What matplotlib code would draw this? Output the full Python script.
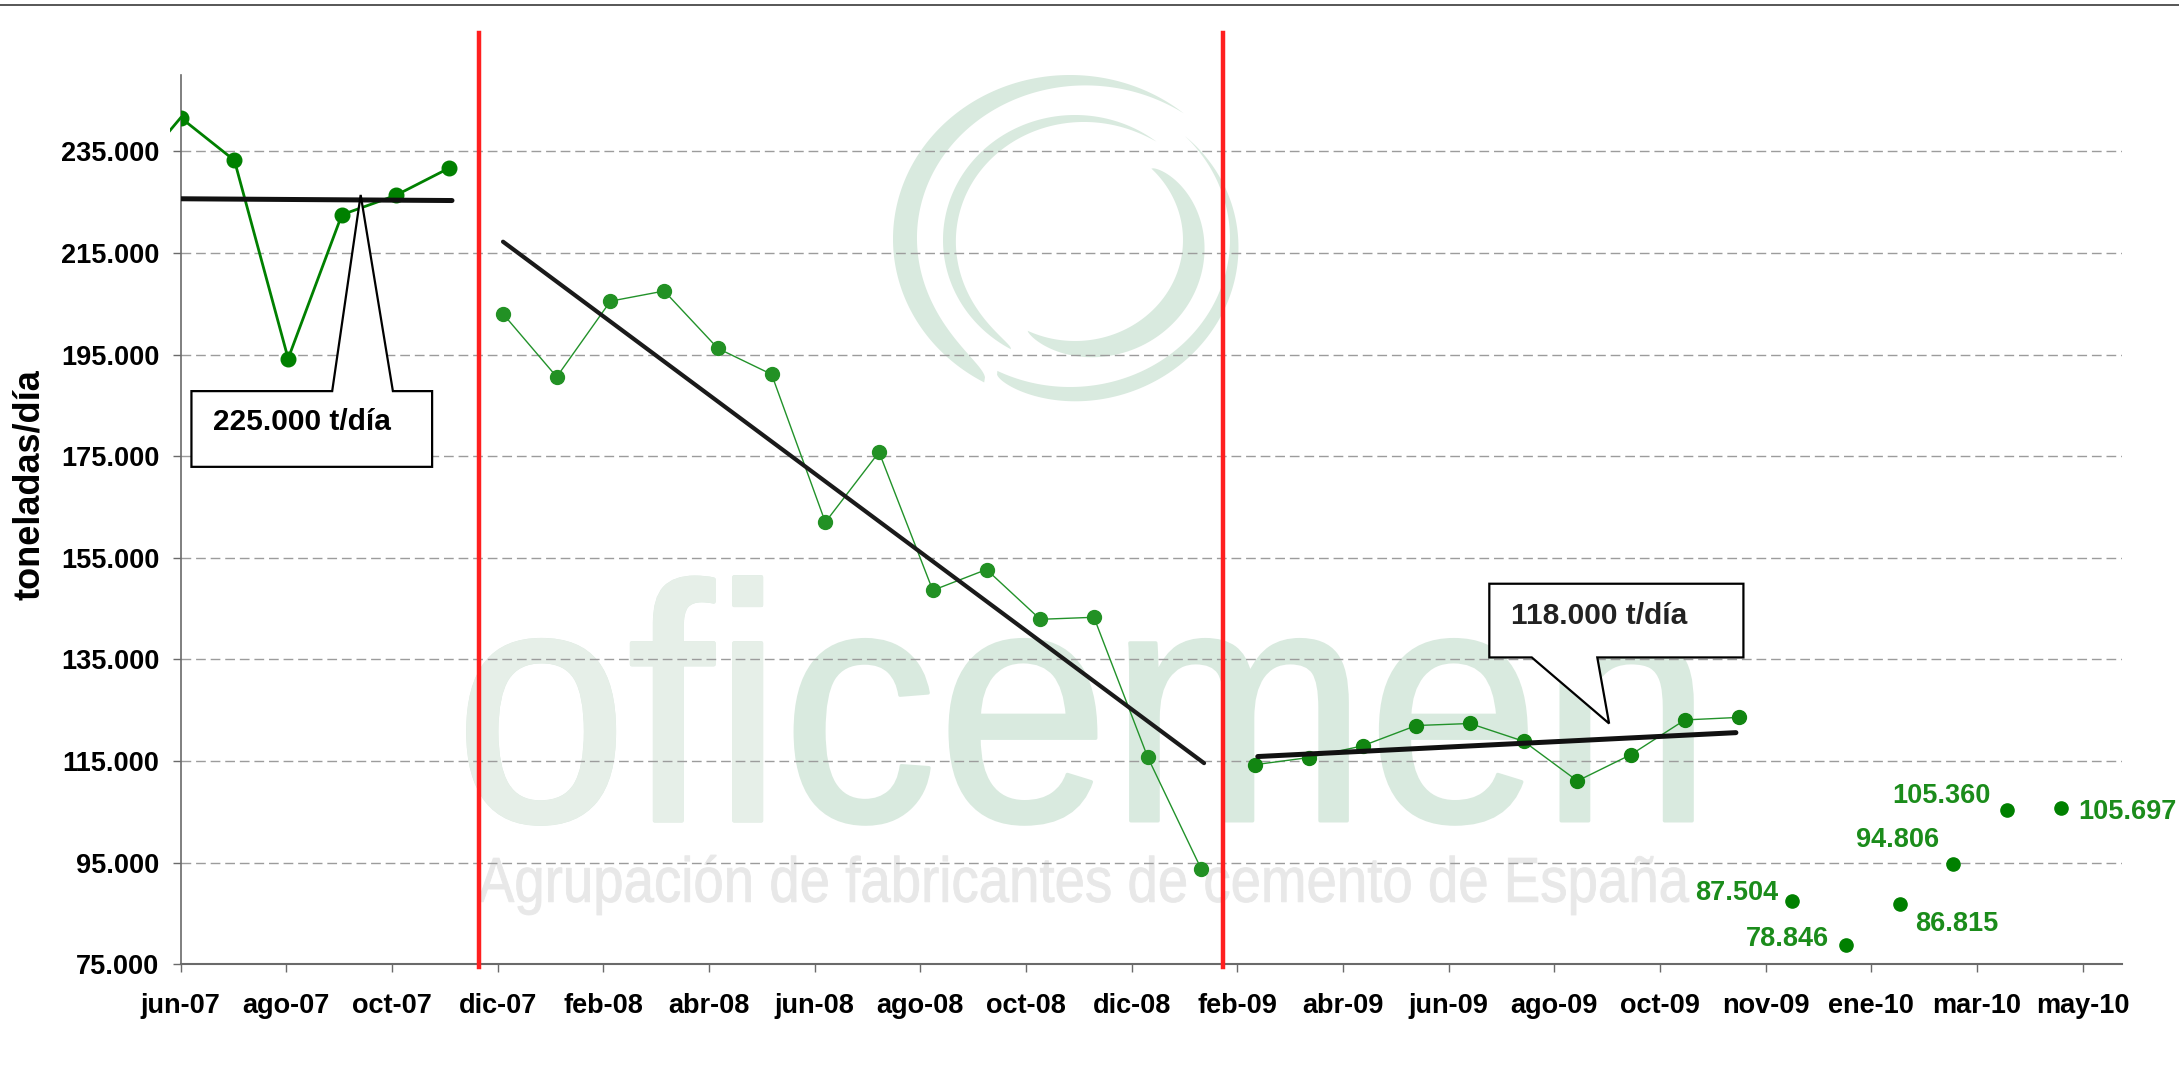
import numpy as np
import matplotlib
matplotlib.use("Agg")
import matplotlib.pyplot as plt
from matplotlib.patches import Polygon, PathPatch, Rectangle
from matplotlib.textpath import TextPath
from matplotlib.font_manager import FontProperties
from matplotlib.transforms import Affine2D
from matplotlib.lines import Line2D
from matplotlib.ticker import FuncFormatter, FixedLocator

plt.rcParams['font.family'] = ['Liberation Sans', 'DejaVu Sans']

# ---------------- data (month index 0 = jun-07) ----------------
stub_x = [-1, 0]
stub_y = [229000, 241600]

seg1_x = [0, 1, 2, 3, 4, 5]
seg1_y = [241600, 233200, 194200, 222500, 226300, 231700]

seg2_x = list(range(6, 20))
seg2_y = [203000, 190600, 205500, 207500, 196200, 191100, 162000, 175800,
          148600, 152700, 142900, 143300, 115800, 93700]

seg3_x = list(range(20, 30))
seg3_y = [114300, 115700, 118000, 122000, 122400, 118900, 111100, 116300,
          123100, 123600]

pts_x = [30, 31, 32, 33, 34, 35]
pts_y = [87504, 78846, 86815, 94806, 105360, 105697]

trend1_x = [-0.04, 5.05]
trend1_y = [225650, 225300]
trend2_x = [6.0, 19.05]
trend2_y = [217200, 114600]
trend3_x = [20.05, 28.95]
trend3_y = [115900, 120600]

break_x = [5.56, 19.40]

tick_labels = ['jun-07', 'ago-07', 'oct-07', 'dic-07', 'feb-08', 'abr-08',
               'jun-08', 'ago-08', 'oct-08', 'dic-08', 'feb-09', 'abr-09',
               'jun-09', 'ago-09', 'oct-09', 'nov-09', 'ene-10', 'mar-10',
               'may-10']
tick_step = 1.967

yticks = [75000, 95000, 115000, 135000, 155000, 175000, 195000, 215000, 235000]

callout_texts = ['225.000 t/día', '118.000 t/día']

# ---------------- layout / style ----------------
W, H = 2179, 1072
fig = plt.figure(figsize=(W / 100, H / 100), dpi=100)

# background watermark axes in pixel coordinates
bg = fig.add_axes([0, 0, 1, 1], zorder=0)
bg.set_xlim(0, W)
bg.set_ylim(H, 0)
bg.axis('off')

logo_col = '#d9eadf'
logo_light = '#e6efe8'


def crescent(cx, cy, rx, ry, th0, th1, wmax, tpeak, anchor, n=300):
    th = np.radians(np.linspace(th0, th1, n))
    t = np.linspace(0, 1, n)
    a, b = 1.4 * tpeak, 1.4 * (1 - tpeak)
    prof = t ** a * (1 - t) ** b
    w = wmax * prof / prof.max()
    if anchor == 'outer':
        r_o_x, r_o_y = rx, ry
        r_i_x, r_i_y = rx - w, ry - w
    else:
        r_i_x, r_i_y = rx, ry
        r_o_x, r_o_y = rx + w, ry + w
    ox = cx + r_o_x * np.cos(th)
    oy = cy - r_o_y * np.sin(th)
    ix = cx + r_i_x * np.cos(th)
    iy = cy - r_i_y * np.sin(th)
    xs = np.concatenate([ox, ix[::-1]])
    ys = np.concatenate([oy, iy[::-1]])
    return Polygon(np.column_stack([xs, ys]), closed=True, fc=logo_col,
                   ec='none')


bg.add_patch(crescent(1070, 239, 177, 164, 50, 241, 24, 0.70, 'outer'))
bg.add_patch(crescent(1070, 239, 160, 148, 44, -117, 15, 0.72, 'inner'))
bg.add_patch(crescent(1075, 240, 132, 125, 52, 241, 13, 0.62, 'outer'))
bg.add_patch(crescent(1075, 240, 108, 101, 45, -116, 24, 0.48, 'inner'))


def fitted_text(s, x0, x1, ytop, ybot, color, family, thicken=0.0,
                overlay=None):
    fp = FontProperties(family=family)
    tp = TextPath((0, 0), s, size=100, prop=fp)
    ext = tp.get_extents()
    sx = (x1 - x0) / ext.width
    sy = (ybot - ytop) / ext.height
    tr = Affine2D().translate(-ext.x0, -ext.y0).scale(sx, -sy).translate(x0, ybot)
    bg.add_patch(PathPatch(tr.transform_path(tp), fc=color, ec=color,
                           lw=thicken, joinstyle='round'))
    if overlay is not None:
        sub, col = overlay
        tp2 = TextPath((0, 0), sub, size=100, prop=fp)
        bg.add_patch(PathPatch(tr.transform_path(tp2), fc=col, ec=col,
                               lw=thicken, joinstyle='round'))


fitted_text('oficemen', 468, 1692, 577, 824, logo_col, 'Liberation Sans',
            thicken=2.6, overlay=('ofi', logo_light))
fitted_text('Agrupación de fabricantes de cemento de España', 478, 1689, 855,
            915, '#e8e8e8', 'Liberation Sans', thicken=0.6)

# main axes
x0p, x1p, ytopp, ybotp = 180.7, 2121.6, 75, 964.4
ax = fig.add_axes([x0p / W, 1 - ybotp / H, (x1p - x0p) / W, (ybotp - ytopp) / H],
                  zorder=1)
ax.patch.set_alpha(0)
ax.set_xlim(0, (x1p - x0p) / 53.72)
ax.set_ylim(75000, 250000)

for s in ['top', 'right']:
    ax.spines[s].set_visible(False)
ax.spines['left'].set_color('#6a6a6a')
ax.spines['left'].set_linewidth(1.2)
ax.spines['bottom'].set_color('#6a6a6a')
ax.spines['bottom'].set_linewidth(1.5)

ax.yaxis.set_major_locator(FixedLocator(yticks))
ax.yaxis.set_major_formatter(FuncFormatter(lambda v, p: f"{int(v):,}".replace(',', '.')))
ax.set_xticks([k * tick_step for k in range(len(tick_labels))])
ax.set_xticklabels(tick_labels)
ax.tick_params(axis='y', length=5.8, width=1, color='#6a6a6a', pad=9.5,
               labelsize=19.5)
ax.tick_params(axis='x', length=5.4, width=1, color='#6a6a6a', pad=15,
               labelsize=19.5)
for lab in ax.get_xticklabels() + ax.get_yticklabels():
    lab.set_fontweight('bold')

ax.yaxis.grid(True, linestyle=(0, (7, 3.5)), color='#9c9c9c', lw=1)
ax.set_axisbelow(True)

fig.text(30 / W, 1 - 485 / H, 'toneladas/día', rotation=90, ha='center',
         va='center', fontsize=26, fontweight='bold')

# top border line of the slide
fig.add_artist(Line2D([0, 1], [1 - 5 / H] * 2, transform=fig.transFigure,
                      color='#3a3a3a', lw=1.2))

# break lines
for bx in break_x:
    ax.axvline(bx, ymin=-0.003, ymax=1.047, color='#ff1f1f', lw=3.2,
               clip_on=False, zorder=3)

# series
stub, = ax.plot(stub_x, stub_y, color='#008000', lw=2, zorder=4)
stub.set_clip_box(None)
stub.set_clip_path(Rectangle((-0.2, 0), 50, 1e6, transform=ax.transData))
stub.set_clip_on(True)
ax.plot(seg1_x, seg1_y, color='#008000', lw=2, marker='o', ms=10.5,
        mfc='#008000', mec='#008000', zorder=4)
ax.plot(seg2_x, seg2_y, color='#22922a', lw=1, marker='o', ms=10,
        mfc='#229124', mec='#229124', zorder=4)
ax.plot(seg3_x, seg3_y, color='#22922a', lw=1, marker='o', ms=10,
        mfc='#128612', mec='#128612', zorder=4)
ax.plot(pts_x, pts_y, ls='none', marker='o', ms=9.5, mfc='#008000',
        mec='#008000', zorder=4, clip_on=False)

label_style = [('right', -10, 6), ('right', -12, 4), ('left', 11, -14),
               ('right', -10, 17), ('right', -12, 10), ('left', 12.5, -2.5)]
for x, y, (ha, dx, dy) in zip(pts_x, pts_y, label_style):
    ax.annotate(f"{y:,}".replace(',', '.'), (x, y), xytext=(dx, dy),
                textcoords='offset points', ha=ha, va='center', fontsize=19.5,
                fontweight='bold', color='#1b8c1b', annotation_clip=False)

# trend lines
ax.plot(trend1_x, trend1_y, color='#111111', lw=3.6, solid_capstyle='round',
        zorder=5)
ax.plot(trend2_x, trend2_y, color='#1a1a1a', lw=3.0, solid_capstyle='round',
        zorder=5)
ax.plot(trend3_x, trend3_y, color='#111111', lw=3.6, solid_capstyle='round',
        zorder=5)

# callouts
c1 = dict(x0=0.2, x1=4.68, y0=172900, y1=187800, b0=2.82, b1=3.95,
          tx=3.35, ty=226400)
c2 = dict(x0=24.36, x1=29.09, y0=135400, y1=149900, b0=25.15, b1=26.37,
          tx=26.59, ty=122400)
poly1 = [(c1['x0'], c1['y0']), (c1['x0'], c1['y1']), (c1['b0'], c1['y1']),
         (c1['tx'], c1['ty']), (c1['b1'], c1['y1']), (c1['x1'], c1['y1']),
         (c1['x1'], c1['y0'])]
poly2 = [(c2['x0'], c2['y1']), (c2['x1'], c2['y1']), (c2['x1'], c2['y0']),
         (c2['b1'], c2['y0']), (c2['tx'], c2['ty']), (c2['b0'], c2['y0']),
         (c2['x0'], c2['y0'])]
for poly in (poly1, poly2):
    ax.add_patch(Polygon(poly, closed=True, fc='white', ec='black', lw=1.6,
                         joinstyle='miter', zorder=6))
ax.text(0.61, 181700, callout_texts[0], fontsize=21.5, fontweight='bold',
        ha='left', va='center', zorder=7)
ax.text(24.77, 143500, callout_texts[1], fontsize=21.5, fontweight='bold',
        ha='left', va='center', color='#222222', zorder=7)

fig.savefig('out.png', dpi=100)
